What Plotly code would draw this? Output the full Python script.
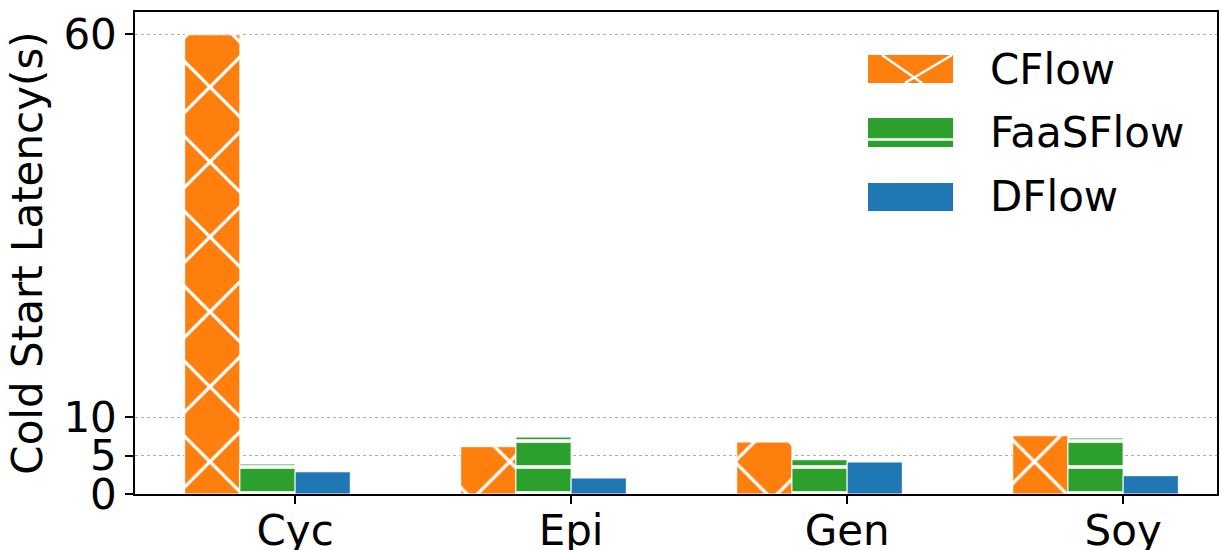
import plotly.graph_objects as go

categories = ["Cyc", "Epi", "Gen", "Soy"]
cflow = [59.9, 6.17, 6.78, 7.6]
faasflow = [3.91, 7.43, 4.47, 7.3]
dflow = [2.9, 2.09, 4.17, 2.39]
y_ticks = [0, 5, 10, 60]
series_names = ["CFlow", "FaaSFlow", "DFlow"]

ORANGE = "#ff7f0e"
GREEN = "#2ca02c"
BLUE = "#1f77b4"
FONT = "DejaVu Sans"
FS = 42
W, H = 1222, 550
ML, MR, MT, MB = 135, 5, 12, 56

fig = go.Figure()
fig.add_trace(go.Bar(
    x=categories, y=cflow, name=series_names[0], width=0.2, offset=-0.4,
    marker=dict(color=ORANGE, line=dict(color="white", width=1),
                pattern=dict(shape="x", fgcolor="white", fgopacity=1, bgcolor=ORANGE, size=53, solidity=0.12, fillmode="overlay")),
))
fig.add_trace(go.Bar(
    x=categories, y=faasflow, name=series_names[1], width=0.2, offset=-0.2,
    marker=dict(color=GREEN, line=dict(color="white", width=1),
                pattern=dict(shape="-", fgcolor="white", fgopacity=1, bgcolor=GREEN, size=26, solidity=0.14, fillmode="overlay")),
))
fig.add_trace(go.Bar(
    x=categories, y=dflow, name=series_names[2], width=0.2, offset=0.0,
    marker=dict(color=BLUE, line=dict(color="white", width=1)),
))

# custom legend: pixel positions converted to paper (plot-area) coords
def px(x):
    return (x - ML) / (W - ML - MR)

def py(y):
    return (H - MB - y) / (H - MB - MT)

shapes = []
annotations = []
legend_rows = [(55, 83, ORANGE), (118, 147, GREEN), (183, 211, BLUE)]
for name, (y0, y1, col) in zip(series_names, legend_rows):
    shapes.append(dict(type="rect", xref="paper", yref="paper",
                       x0=px(868), x1=px(953), y0=py(y1), y1=py(y0),
                       fillcolor=col, line=dict(width=0), layer="above"))
    annotations.append(dict(xref="paper", yref="paper", x=px(988), y=py((y0 + y1) / 2),
                            text=name, showarrow=False, xanchor="left", yanchor="middle",
                            font=dict(size=FS, family=FONT, color="black")))
# hatch marks on legend symbols
shapes.append(dict(type="line", xref="paper", yref="paper", x0=px(882), y0=py(55), x1=px(922), y1=py(83),
                   line=dict(color="white", width=2.5), layer="above"))
shapes.append(dict(type="line", xref="paper", yref="paper", x0=px(952), y0=py(55), x1=px(905), y1=py(83),
                   line=dict(color="white", width=2.5), layer="above"))
shapes.append(dict(type="line", xref="paper", yref="paper", x0=px(868), y0=py(139.5), x1=px(953), y1=py(139.5),
                   line=dict(color="white", width=2.5), layer="above"))

fig.update_layout(
    width=W, height=H,
    barmode="overlay",
    plot_bgcolor="white", paper_bgcolor="white",
    margin=dict(l=ML, r=MR, t=MT, b=MB),
    font=dict(family=FONT, size=FS, color="black"),
    showlegend=False,
    shapes=shapes,
    annotations=annotations,
)
fig.update_xaxes(
    type="category", range=[-0.58, 3.34], automargin=False,
    showline=True, linecolor="black", linewidth=1.5, mirror=True,
    ticks="outside", ticklen=8, tickcolor="black", tickwidth=1.5,
    ticklabelstandoff=-9,
    tickfont=dict(size=FS, family=FONT), showgrid=False,
)
fig.update_yaxes(
    range=[0, 62.87], tickvals=y_ticks, ticktext=[str(v) for v in y_ticks],
    automargin=False,
    showline=True, linecolor="black", linewidth=1.5, mirror=True,
    ticks="outside", ticklen=8, tickcolor="black", tickwidth=1.5,
    tickfont=dict(size=FS, family=FONT),
    showgrid=True, gridcolor="#b0b0b0", griddash="dot", gridwidth=1,
    zeroline=False,
    title=dict(text="Cold Start Latency(s)", font=dict(size=FS, family=FONT), standoff=8),
)

fig.write_html("out.html", config={"displayModeBar": False},
               post_script="document.body.style.margin='0';document.body.style.overflow='hidden';")
